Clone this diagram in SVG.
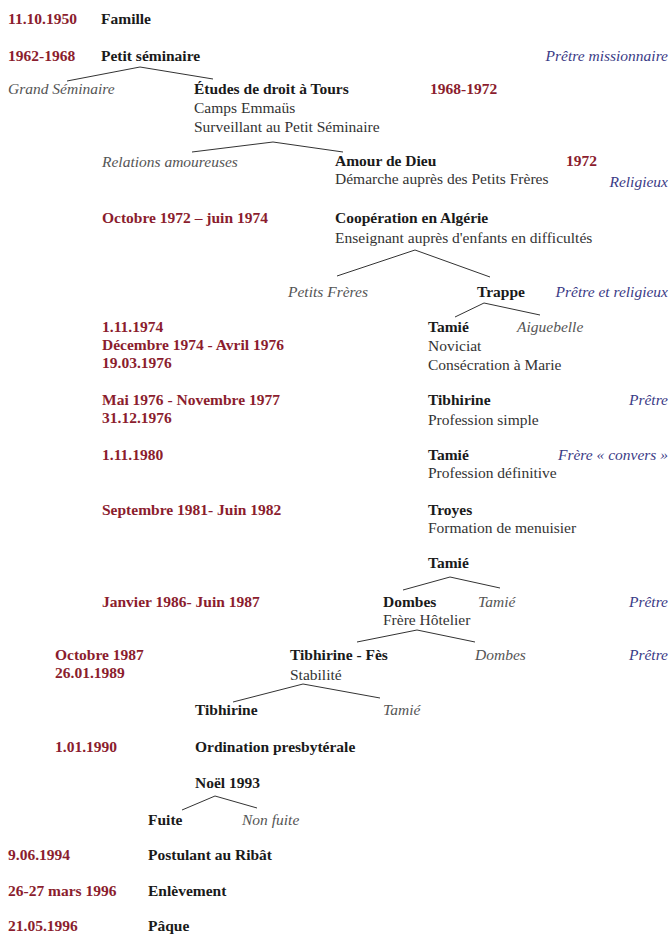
<svg xmlns="http://www.w3.org/2000/svg" width="671" height="936" viewBox="0 0 671 936">
<style>
text{font-family:"Liberation Serif","Times New Roman",serif;font-size:15.5px;}
.d{fill:#8b1d2e;font-weight:bold;}
.h{fill:#1a1a1a;font-weight:bold;}
.t{fill:#333;}
.i{fill:#555;font-style:italic;}
.b{fill:#3b3b86;font-style:italic;text-anchor:end;}
.c{fill:none;stroke:#333;stroke-width:1;}
</style>
<rect width="671" height="936" fill="#fff"/>
<g id="connectors">
<polyline class="c" points="67,81 140,67 213,79"/>
<polyline class="c" points="192,152 273,142 343,152"/>
<polyline class="c" points="337,276 415,250 490,277"/>
<polyline class="c" points="455,317 484,303 540,315"/>
<polyline class="c" points="403,590 450,577 500,588"/>
<polyline class="c" points="357,642 417,630 475,642"/>
<polyline class="c" points="233,702 303,684 380,698"/>
<polyline class="c" points="182,810 215,796 257,808"/>
</g>
<g id="n-famille"><text class="d" x="8" y="24">11.10.1950</text><text class="h" x="101" y="24">Famille</text></g>
<g id="n-petit-seminaire"><text class="d" x="8" y="61">1962-1968</text><text class="h" x="101" y="61">Petit séminaire</text><text class="b" x="668" y="61">Prêtre missionnaire</text></g>
<g id="n-grand-seminaire"><text class="i" x="8" y="94">Grand Séminaire</text></g>
<g id="n-etudes"><text class="h" x="194" y="94">Études de droit à Tours</text><text class="d" x="430" y="94">1968-1972</text><text class="t" x="194" y="113">Camps Emmaüs</text><text class="t" x="194" y="132">Surveillant au Petit Séminaire</text></g>
<g id="n-relations"><text class="i" x="102" y="167">Relations amoureuses</text></g>
<g id="n-amour"><text class="h" x="335" y="166">Amour de Dieu</text><text class="d" x="566" y="166">1972</text><text class="t" x="335" y="184">Démarche auprès des Petits Frères</text><text class="b" x="668" y="187">Religieux</text></g>
<g id="n-cooperation"><text class="d" x="102" y="223">Octobre 1972 – juin 1974</text><text class="h" x="335" y="223">Coopération en Algérie</text><text class="t" x="335" y="243">Enseignant auprès d'enfants en difficultés</text></g>
<g id="n-petits-freres"><text class="i" x="288" y="297">Petits Frères</text></g>
<g id="n-trappe"><text class="h" x="477" y="297">Trappe</text><text class="b" x="668" y="297">Prêtre et religieux</text></g>
<g id="n-aiguebelle"><text class="i" x="517" y="332">Aiguebelle</text></g>
<g id="n-tamie1"><text class="d" x="102" y="332">1.11.1974</text><text class="d" x="102" y="350">Décembre 1974 - Avril 1976</text><text class="d" x="102" y="368">19.03.1976</text><text class="h" x="428" y="332">Tamié</text><text class="t" x="428" y="351">Noviciat</text><text class="t" x="428" y="370">Consécration à Marie</text></g>
<g id="n-tibhirine1"><text class="d" x="102" y="405">Mai 1976 - Novembre 1977</text><text class="d" x="102" y="423">31.12.1976</text><text class="h" x="428" y="405">Tibhirine</text><text class="t" x="428" y="425">Profession simple</text><text class="b" x="668" y="405">Prêtre</text></g>
<g id="n-tamie2"><text class="d" x="102" y="460">1.11.1980</text><text class="h" x="428" y="460">Tamié</text><text class="t" x="428" y="478">Profession définitive</text><text class="b" x="668" y="460">Frère « convers »</text></g>
<g id="n-troyes"><text class="d" x="102" y="515">Septembre 1981- Juin 1982</text><text class="h" x="428" y="515">Troyes</text><text class="t" x="428" y="533">Formation de menuisier</text></g>
<g id="n-tamie3"><text class="h" x="428" y="568">Tamié</text></g>
<g id="n-dombes"><text class="d" x="102" y="607">Janvier 1986- Juin 1987</text><text class="h" x="383" y="607">Dombes</text><text class="t" x="383" y="625">Frère Hôtelier</text><text class="b" x="668" y="607">Prêtre</text></g>
<g id="n-tamie4"><text class="i" x="478" y="607">Tamié</text></g>
<g id="n-tibhirine-fes"><text class="d" x="55" y="660">Octobre 1987</text><text class="d" x="55" y="678">26.01.1989</text><text class="h" x="290" y="660">Tibhirine - Fès</text><text class="t" x="290" y="680">Stabilité</text><text class="b" x="668" y="660">Prêtre</text></g>
<g id="n-dombes2"><text class="i" x="475" y="660">Dombes</text></g>
<g id="n-tibhirine2"><text class="h" x="195" y="715">Tibhirine</text></g>
<g id="n-tamie5"><text class="i" x="383" y="715">Tamié</text></g>
<g id="n-ordination"><text class="d" x="55" y="752">1.01.1990</text><text class="h" x="195" y="752">Ordination presbytérale</text></g>
<g id="n-noel"><text class="h" x="195" y="788">Noël 1993</text></g>
<g id="n-fuite"><text class="h" x="148" y="825">Fuite</text></g>
<g id="n-non-fuite"><text class="i" x="242" y="825">Non fuite</text></g>
<g id="n-ribat"><text class="d" x="8" y="860">9.06.1994</text><text class="h" x="148" y="860">Postulant au Ribât</text></g>
<g id="n-enlevement"><text class="d" x="8" y="896">26-27 mars 1996</text><text class="h" x="148" y="896">Enlèvement</text></g>
<g id="n-paque"><text class="d" x="8" y="931">21.05.1996</text><text class="h" x="148" y="931">Pâque</text></g>
</svg>
